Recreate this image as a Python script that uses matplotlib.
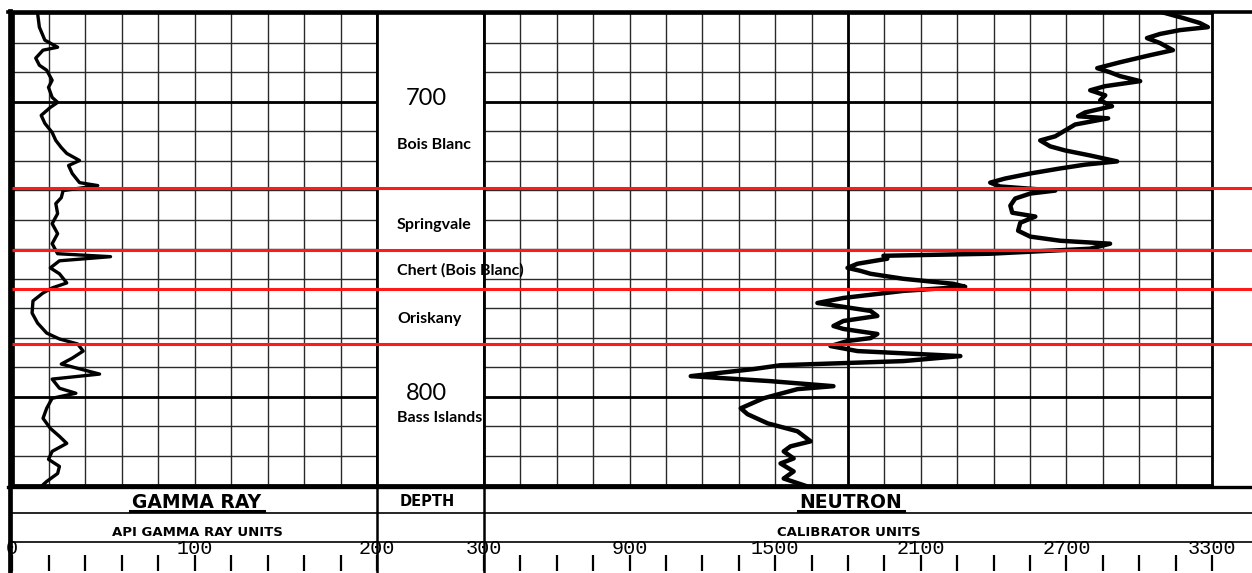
import numpy as np
import matplotlib.pyplot as plt
from matplotlib.transforms import blended_transform_factory as blend

# data (depth in ft)
depth_top, depth_bot = 670, 830

gr_depth = [670.0, 674.8, 679.2, 681.6, 682.6, 685.3, 687.7, 689.4, 692.8, 695.2,
            698.6, 700.3, 702.0, 704.7, 707.4, 710.5, 713.2, 715.6, 717.6, 720.0,
            721.7, 724.4, 727.5, 728.5, 730.2, 732.6, 734.6, 738.0, 741.4, 744.8,
            748.2, 751.6, 752.6, 754.0, 756.4, 758.4, 761.5, 763.2, 764.9, 767.6,
            771.7, 775.1, 778.5, 780.5, 782.2, 784.6, 787.0, 789.0, 792.4, 794.1,
            797.2, 798.9, 800.6, 804.0, 807.4, 810.8, 813.5, 815.9, 818.6, 821.3,
            823.7, 826.1, 828.8, 830.5]
gr_api = [14, 15, 18, 25, 17, 13, 15, 19, 22, 20,
          22, 25, 21, 16, 18, 22, 24, 27, 30, 37,
          31, 33, 37, 47, 28, 27, 24, 25, 22, 25,
          22, 25, 54, 26, 21, 26, 30, 22, 17, 11.5,
          11, 14, 19, 26, 36, 39, 33, 27, 48, 22,
          26, 35, 22, 19, 17, 21, 26, 30, 22, 20,
          26, 25, 19, 16]

nt_depth = [670.0, 671.7, 673.4, 674.8, 675.8, 677.1, 678.5, 680.2, 682.6, 684.3,
            686.7, 688.7, 690.1, 691.4, 693.1, 694.8, 696.2, 697.9, 699.6, 701.6,
            703.7, 705.0, 705.7, 707.8, 709.8, 711.8, 713.2, 715.2, 716.6, 718.3,
            720.3, 721.4, 722.7, 724.4, 726.1, 727.5, 728.8, 730.2, 731.2, 732.9,
            735.3, 737.7, 739.0, 741.1, 743.8, 745.8, 747.2, 748.2, 749.9, 751.6,
            752.3, 753.3, 755.0, 756.4, 757.4, 758.4, 760.1, 761.8, 762.8, 764.2,
            766.6, 768.3, 769.3, 771.0, 772.7, 774.4, 776.1, 777.1, 778.8, 780.2,
            781.2, 782.9, 784.6, 786.3, 788.0, 789.4, 790.7, 793.1, 794.8, 796.5,
            797.5, 800.6, 804.0, 806.0, 809.1, 811.8, 815.2, 816.9, 818.6, 821.0,
            822.7, 825.4, 827.8, 830.5]
nt_cal = [3106, 3181, 3250, 3283, 3168, 3086, 3032, 3086, 3139, 3045,
          2921, 2827, 2880, 2921, 3004, 2860, 2798, 2860, 2839, 2888,
          2777, 2748, 2872, 2736, 2695, 2654, 2592, 2633, 2695, 2798,
          2909, 2777, 2674, 2551, 2448, 2386, 2427, 2654, 2551, 2489,
          2469, 2477, 2572, 2510, 2501, 2551, 2674, 2880, 2798, 2386,
          1946, 1962, 1839, 1798, 1851, 1893, 2028, 2234, 2283, 2028,
          1781, 1674, 1757, 1893, 1921, 1781, 1740, 1781, 1921, 1893,
          1798, 1728, 1839, 2263, 2028, 1522, 1411, 1152, 1481, 1740,
          1592, 1452, 1358, 1386, 1469, 1592, 1646, 1563, 1535, 1576,
          1522, 1576, 1535, 1633]

tops = [729.2, 750.3, 763.5, 782.2]
fm_names = ["Bois Blanc", "Springvale", "Chert (Bois Blanc)", "Oriskany", "Bass Islands"]
fm_depth = [714.6, 741.8, 757.4, 773.7, 807.4]
depth_labels = [700, 800]

gr_ticks = list(range(0, 201, 20))
gr_ticklabels = [0, 100, 200]
nt_ticks = list(range(300, 3301, 150))
nt_ticklabels = [300, 900, 1500, 2100, 2700, 3300]

W, H = 1252, 573
fig = plt.figure(figsize=(W / 100, H / 100), dpi=100)


def px(x0, y0, x1, y1):
    # pixel box -> figure fraction
    return [x0 / W, 1 - y1 / H, (x1 - x0) / W, (y1 - y0) / H]


grid_c = '#2a2a2a'
ax_g = fig.add_axes(px(12, 13, 377, 485))
ax_d = fig.add_axes(px(377, 13, 484, 485))
ax_n = fig.add_axes(px(484, 13, 1212, 485))

for ax in (ax_g, ax_n):
    ax.set_ylim(depth_bot, depth_top)
    ax.set_yticks(range(depth_top, depth_bot + 1, 10))
    ax.tick_params(length=0, labelbottom=False, labelleft=False)
    ax.grid(True, color=grid_c, lw=1.0)
    for d in depth_labels:
        ax.axhline(d, color='black', lw=2.0)
ax_g.set_xlim(0, 200)
ax_g.set_xticks(gr_ticks)
ax_n.set_xlim(300, 3300)
ax_n.set_xticks(nt_ticks)
ax_n.axvline(1800, color='black', lw=2.0)

ax_d.set_ylim(depth_bot, depth_top)
ax_d.set_xticks([])
ax_d.set_yticks([])

for ax in (ax_g, ax_d, ax_n):
    for s in ax.spines.values():
        s.set_linewidth(2.0)
    ax.spines['top'].set_linewidth(2.6)
ax_g.spines['left'].set_linewidth(3.4)

ax_g.plot(gr_api, gr_depth, color='black', lw=2.4, solid_joinstyle='round')
ax_n.plot(nt_cal, nt_depth, color='black', lw=3.2, solid_joinstyle='round')

# overlay in pixel units for the header block
ax_f = fig.add_axes([0, 0, 1, 1], zorder=5)
ax_f.set_xlim(0, W)
ax_f.set_ylim(H, 0)
ax_f.axis('off')

ax_f.plot([8, W], [12, 12], color='black', lw=2.6)
ax_f.plot([8, W], [487, 487], color='black', lw=2.4)
ax_f.plot([10, 10], [11, H], color='black', lw=3.4)
ax_f.plot([12, W], [513, 513], color='black', lw=1.2)
ax_f.plot([12, W], [542, 542], color='black', lw=1.2)

tg = blend(ax_g.transData, ax_f.transData)
tn = blend(ax_n.transData, ax_f.transData)
ax_f.plot([200, 200], [487, H], color='black', lw=1.8, transform=tg)
ax_f.plot([300, 300], [487, H], color='black', lw=1.8, transform=tn)
ax_f.vlines(gr_ticks, 555, 571, color='black', lw=1.6, transform=tg)
ax_f.vlines(nt_ticks, 555, 571, color='black', lw=1.6, transform=tn)
for v in gr_ticklabels:
    ax_f.text(v, 549, str(v), transform=tg, ha='center', va='center',
              family='Liberation Mono', fontsize=14.5)
for v in nt_ticklabels:
    ax_f.text(v, 549, str(v), transform=tn, ha='center', va='center',
              family='Liberation Mono', fontsize=14.5)

hdr = dict(family='DejaVu Sans', weight='bold', ha='center', va='center')
t1 = ax_f.text(197, 502, 'GAMMA RAY', fontsize=13.5, **hdr)
ax_f.text(427, 501, 'DEPTH', fontsize=10.5, **hdr)
t2 = ax_f.text(851, 502, 'NEUTRON', fontsize=13.5, **hdr)
ax_f.text(197, 532, 'API GAMMA RAY UNITS', fontsize=9.5, **hdr)
ax_f.text(849, 532, 'CALIBRATOR UNITS', fontsize=9.5, **hdr)

fig.canvas.draw()
inv = ax_f.transData.inverted()
for t in (t1, t2):
    bb = t.get_window_extent()
    (xa, _), (xb, _) = inv.transform([[bb.x0, 0], [bb.x1, 0]])
    ax_f.plot([xa - 2, xb + 2], [511, 511], color='black', lw=2.2)

# depth numbers and formation names
td = blend(ax_f.transData, ax_g.transData)
for d in depth_labels:
    ax_f.text(426, d - 1, str(d), transform=td, ha='center', va='center',
              family='Lato', fontsize=17)
for name, d in zip(fm_names, fm_depth):
    ax_f.text(397, d, name, transform=td, ha='left', va='center',
              family='Lato', weight='bold', fontsize=11.5)

# red formation tops across the whole log
ax_r = fig.add_axes(px(12, 13, W, 485), zorder=6)
ax_r.set_ylim(depth_bot, depth_top)
ax_r.set_xlim(0, 1)
ax_r.axis('off')
ax_r.hlines(tops, 0, 1, color='#ff1a1a', lw=2.2)

fig.savefig('out.png', dpi=100)
